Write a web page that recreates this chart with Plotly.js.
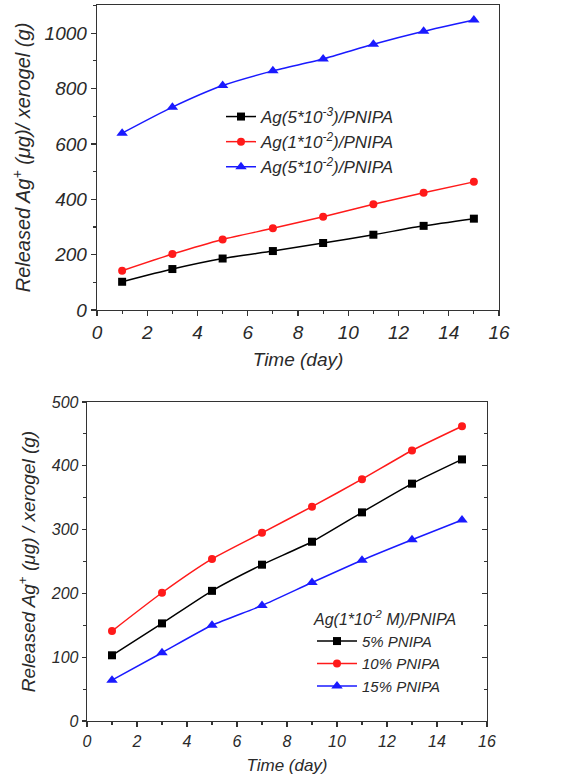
<!DOCTYPE html>
<html>
<head>
<meta charset="utf-8">
<script src="https://cdn.plot.ly/plotly-3.0.1.min.js"></script>
<style>html,body{margin:0;padding:0;background:#fff;}#chart{width:569px;height:781px;}</style>
</head>
<body>
<div id="chart"></div>
<script>
// ---- Data (top panel) ----
const days = [1, 3, 5, 7, 9, 11, 13, 15];
const topNames = ["Ag(5*10<sup>-3</sup>)/PNIPA", "Ag(1*10<sup>-2</sup>)/PNIPA", "Ag(5*10<sup>-2</sup>)/PNIPA"];
const topAg5e3 = [102, 148, 186, 213, 242, 272, 304, 330];
const topAg1e2 = [142, 202, 255, 295, 337, 382, 424, 463];
const topAg5e2 = [639, 733, 811, 864, 907, 960, 1007, 1048];

// ---- Data (bottom panel) ----
const botNames = ["5% PNIPA", "10% PNIPA", "15% PNIPA"];
const bot5 = [103, 153, 204, 245, 281, 327, 372, 410];
const bot10 = [141, 201, 254, 295, 336, 379, 424, 462];
const bot15 = [64, 107, 150, 181, 217, 252, 284, 315];
const botLegendTitle = "Ag(1*10<sup>-2</sup> M)/PNIPA";

const xTitle = "Time (day)";
const yTitleTop = "Released Ag<sup>+</sup> (μg)/ xerogel (g)";
const yTitleBot = "Released Ag<sup>+</sup> (μg) / xerogel (g)";

const colors = ["#000000", "#ff1a1a", "#1a1aff"];
const symbols = ["square", "circle", "triangle-up"];
const msizes = [8, 8, 10];
const FONT = "Liberation Sans, Arial, sans-serif";
const TXT = "#2a2a2a";

function mk(y, i, name, xa, ya, leg) {
  return {
    x: days, y: y, name: name, type: "scatter", mode: "lines+markers",
    xaxis: xa, yaxis: ya, legend: leg,
    line: {color: colors[i], width: 1.5, shape: "spline", smoothing: 0.6},
    marker: {color: colors[i], symbol: symbols[i], size: msizes[i]}
  };
}

const traces = [
  mk(topAg5e3, 0, topNames[0], "x", "y", "legend"),
  mk(topAg1e2, 1, topNames[1], "x", "y", "legend"),
  mk(topAg5e2, 2, topNames[2], "x", "y", "legend"),
  mk(bot5, 0, botNames[0], "x2", "y2", "legend2"),
  mk(bot10, 1, botNames[1], "x2", "y2", "legend2"),
  mk(bot15, 2, botNames[2], "x2", "y2", "legend2"),
  // helper trace so the right edge of the bottom frame gets inward ticks
  {x: [], y: [], type: "scatter", mode: "markers", xaxis: "x2", yaxis: "y3", showlegend: false, hoverinfo: "skip"}
];

const W = 569, H = 781;
const px = v => v / W;
const py = v => 1 - v / H;

function xAx(domain, anchor, fs, tfs) {
  return {
    domain: domain, anchor: anchor, range: [0, 16], dtick: 2, tick0: 0,
    showgrid: false, zeroline: false, showline: true, linecolor: "#333", linewidth: 1.3, mirror: true,
    ticks: "outside", ticklen: 5, tickcolor: "#333", tickwidth: 1.3,
    minor: {ticks: "outside", ticklen: 3, dtick: 1, tickcolor: "#333", tickwidth: 1.1, showgrid: false},
    tickfont: {family: FONT, size: tfs, color: TXT, style: "italic"},
    title: {text: xTitle, font: {family: FONT, size: fs, color: TXT, style: "italic"}, standoff: 10}
  };
}

const layout = {
  width: W, height: H,
  margin: {l: 0, r: 0, t: 0, b: 0},
  paper_bgcolor: "#fff", plot_bgcolor: "#fff",
  font: {family: FONT, color: TXT},
  xaxis: xAx([px(97), px(499)], "y", 19, 19),
  yaxis: {
    domain: [py(310), py(5)], anchor: "x", range: [0, 1102], dtick: 200, tick0: 0,
    showgrid: false, zeroline: false, showline: true, linecolor: "#333", linewidth: 1.3, mirror: true,
    ticks: "outside", ticklen: 5, tickcolor: "#333", tickwidth: 1.3,
    minor: {ticks: "outside", ticklen: 3, dtick: 100, tickcolor: "#333", tickwidth: 1.1, showgrid: false},
    tickfont: {family: FONT, size: 19, color: TXT, style: "italic"},
    title: {text: yTitleTop, font: {family: FONT, size: 20, color: TXT, style: "italic"}, standoff: 8}
  },
  xaxis2: xAx([px(87), px(487)], "y2", 17, 16),
  yaxis2: {
    domain: [py(721), py(402)], anchor: "x2", range: [0, 500], dtick: 100, tick0: 0,
    showgrid: false, zeroline: false, showline: true, linecolor: "#333", linewidth: 1.3, mirror: true,
    ticks: "outside", ticklen: 4, tickcolor: "#333", tickwidth: 1.3,
    minor: {ticks: "outside", ticklen: 3, dtick: 50, tickcolor: "#333", tickwidth: 1.1, showgrid: false},
    tickfont: {family: FONT, size: 16, color: TXT, style: "italic"},
    title: {text: yTitleBot, font: {family: FONT, size: 19, color: TXT, style: "italic"}, standoff: 10}
  },
  yaxis3: {
    overlaying: "y2", side: "right", anchor: "x2", range: [0, 500], dtick: 100, tick0: 0,
    showgrid: false, zeroline: false, showline: false, showticklabels: false,
    ticks: "inside", ticklen: 5, tickcolor: "#333", tickwidth: 1.3,
    minor: {ticks: "inside", ticklen: 3, dtick: 50, tickcolor: "#333", tickwidth: 1.1, showgrid: false}
  },
  legend: {
    x: px(221), y: py(99), xanchor: "left", yanchor: "top",
    bgcolor: "rgba(0,0,0,0)", borderwidth: 0,
    font: {family: FONT, size: 17, color: TXT, style: "italic"},
    tracegroupgap: 0
  },
  legend2: {
    x: px(312), y: py(604), xanchor: "left", yanchor: "top",
    bgcolor: "rgba(0,0,0,0)", borderwidth: 0, itemwidth: 40,
    font: {family: FONT, size: 15, color: TXT, style: "italic"},
    title: {text: botLegendTitle, side: "top", font: {family: FONT, size: 16, color: TXT, style: "italic"}}
  },
  showlegend: true
};

Plotly.newPlot("chart", traces, layout, {displayModeBar: false, staticPlot: true});
</script>
</body>
</html>
